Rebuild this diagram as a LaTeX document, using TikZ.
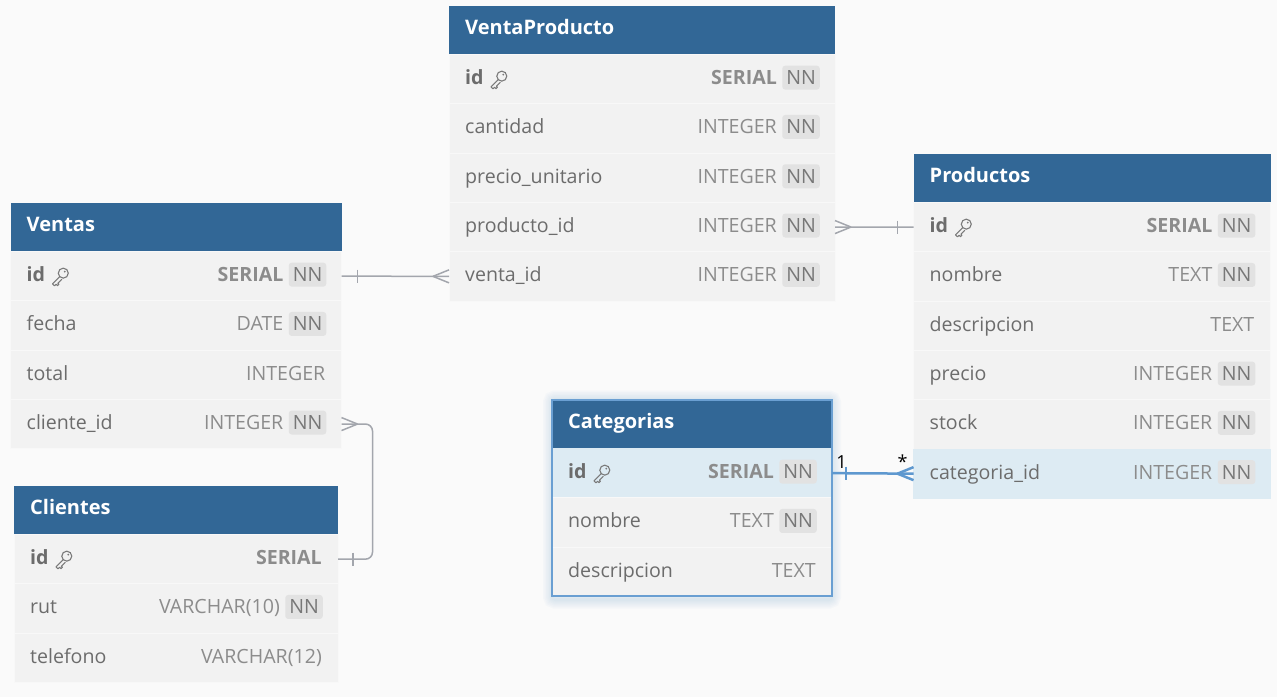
\documentclass[tikz,border=0pt]{standalone}
\usepackage{fontspec}
\setmainfont{Open Sans}

\definecolor{bg}{HTML}{FAFAFA}
\definecolor{headblue}{HTML}{326796}
\definecolor{rowgray}{HTML}{F2F2F2}
\definecolor{rowline}{HTML}{F8F8F8}
\definecolor{hilite}{HTML}{DDEBF3}
\definecolor{fldgray}{HTML}{6C6C6C}
\definecolor{typgray}{HTML}{8C8C8C}
\definecolor{nnfill}{HTML}{E2E2E2}
\definecolor{nntext}{HTML}{777777}
\definecolor{keygray}{HTML}{7A7A7A}
\definecolor{linkgray}{HTML}{A3A6AD}
\definecolor{linkblue}{HTML}{5E98CF}
\definecolor{cateborder}{HTML}{6A9FD2}

\newcommand\rowfont{\fontsize{19.6}{23}\selectfont}
\newcommand\headfont{\fontsize{20}{24}\selectfont\bfseries}

\tikzset{
  tw/.style={},
  tblhead/.style={rectangle, fill=headblue, minimum height=49pt, inner sep=0pt, outer sep=0pt, anchor=north west, tw},
  headtext/.style={inner sep=0pt, anchor=base west, font=\headfont, text=white},
  rowbox/.style={rectangle, fill=rowgray, draw=rowline, line width=0.8pt, minimum height=49.3pt, inner sep=0pt, outer sep=0pt, anchor=north west, tw},
  fieldtext/.style={inner sep=0pt, anchor=base west, font=\rowfont, text=fldgray},
  typetext/.style={inner sep=0pt, anchor=base east, font=\rowfont, text=typgray},
  nnbadge/.style={rectangle, rounded corners=3pt, fill=nnfill, text=nntext, font=\rowfont, inner xsep=4pt, inner ysep=0pt, minimum height=24pt, anchor=east},
  link/.style={draw=linkgray, line width=1.5pt},
  bluelink/.style={draw=linkblue, line width=2.5pt},
  keyicon/.pic={
    \draw[keygray, line width=1.1pt] (12,-8.5) circle (5pt);
    \fill[keygray] (13.5,-10) circle (1pt);
    \draw[keygray, line width=1.1pt, line cap=round, line join=round]
      (8.6,-5.2) -- (1.2,2.2) -- (3.2,4.2) -- (4.8,2.6) -- (6.2,4) -- (7.6,2.6) -- (6.6,1.6) -- (10.4,-2.2);
  },
  one/.pic={\draw (0,-6.5) -- (0,6.5);},
  many/.pic={\draw (0,0) -- (16,-6.5) (0,0) -- (16,6.5);},
}

% table head: name, x, y, title
\newcommand\dbhead[4]{%
  \node[tblhead] (#1) at (#2,#3) {};
  \node[headtext] (#1-t) at ([xshift=16pt,yshift=-4.6pt]#1.west) {#4};}

% table row: name, row above, field, type, NN badge (1/0)
\newcommand\dbrow[5]{%
  \node[rowbox] (#1) at (#2.south west) {};
  \node[fieldtext] (#1-f) at ([xshift=16pt,yshift=-5.5pt]#1.west) {#3};
  \ifnum#5=1
    \node[nnbadge] (#1-nn) at ([xshift=-15pt,yshift=1.5pt]#1.east) {NN};
    \node[typetext] (#1-ty) at ([xshift=-5pt]#1-nn.base west) {#4};
  \else
    \node[typetext] (#1-ty) at ([xshift=-16pt,yshift=-5.5pt]#1.east) {#4};
  \fi}

\begin{document}
\begin{tikzpicture}[x=1pt, y=-1pt]
  \fill[bg] (0,0) rectangle (1277,697);
  \useasboundingbox (0,0) rectangle (1277,697);

  % VentaProducto
  \begin{scope}[tw/.style={minimum width=386pt}]
    \dbhead{vp}{449}{5.5}{VentaProducto}
    \dbrow{vp-1}{vp}{\textbf{id}}{\textbf{SERIAL}}{1}
    \pic at ([xshift=6pt]vp-1-f.base east) {keyicon};
    \dbrow{vp-2}{vp-1}{cantidad}{INTEGER}{1}
    \dbrow{vp-3}{vp-2}{precio\_unitario}{INTEGER}{1}
    \dbrow{vp-4}{vp-3}{producto\_id}{INTEGER}{1}
    \dbrow{vp-5}{vp-4}{venta\_id}{INTEGER}{1}
  \end{scope}

  % Productos
  \begin{scope}[tw/.style={minimum width=357pt}]
    \dbhead{pr}{913.5}{153.5}{Productos}
    \dbrow{pr-1}{pr}{\textbf{id}}{\textbf{SERIAL}}{1}
    \pic at ([xshift=6pt]pr-1-f.base east) {keyicon};
    \dbrow{pr-2}{pr-1}{nombre}{TEXT}{1}
    \dbrow{pr-3}{pr-2}{descripcion}{TEXT}{0}
    \dbrow{pr-4}{pr-3}{precio}{INTEGER}{1}
    \dbrow{pr-5}{pr-4}{stock}{INTEGER}{1}
    \begin{scope}[rowbox/.append style={fill=hilite, draw=hilite}]
      \dbrow{pr-6}{pr-5}{categoria\_id}{INTEGER}{1}
    \end{scope}
  \end{scope}

  % Ventas
  \begin{scope}[tw/.style={minimum width=331pt}]
    \dbhead{ve}{10.5}{202.5}{Ventas}
    \dbrow{ve-1}{ve}{\textbf{id}}{\textbf{SERIAL}}{1}
    \pic at ([xshift=6pt]ve-1-f.base east) {keyicon};
    \dbrow{ve-2}{ve-1}{fecha}{DATE}{1}
    \dbrow{ve-3}{ve-2}{total}{INTEGER}{0}
    \dbrow{ve-4}{ve-3}{cliente\_id}{INTEGER}{1}
  \end{scope}

  % Clientes
  \begin{scope}[tw/.style={minimum width=324pt}]
    \dbhead{cl}{14}{485.5}{Clientes}
    \dbrow{cl-1}{cl}{\textbf{id}}{\textbf{SERIAL}}{0}
    \pic at ([xshift=6pt]cl-1-f.base east) {keyicon};
    \dbrow{cl-2}{cl-1}{rut}{VARCHAR(10)}{1}
    \dbrow{cl-3}{cl-2}{telefono}{VARCHAR(12)}{0}
  \end{scope}

  % Categorias (selected)
  \foreach \g in {3,6,...,18}
    \draw[cateborder, opacity=0.035, line width=\g pt, rounded corners=3pt] (552,399.5) rectangle (832,599.5);
  \begin{scope}[tw/.style={minimum width=280pt}]
    \dbhead{ca}{552}{399.5}{Categorias}
    \begin{scope}[rowbox/.append style={fill=hilite, draw=hilite}]
      \dbrow{ca-1}{ca}{\textbf{id}}{\textbf{SERIAL}}{1}
    \end{scope}
    \pic at ([xshift=6pt]ca-1-f.base east) {keyicon};
    \dbrow{ca-2}{ca-1}{nombre}{TEXT}{1}
    \dbrow{ca-3}{ca-2}{descripcion}{TEXT}{0}
  \end{scope}
  \draw[cateborder, line width=2pt] (ca.north west) rectangle (ca-3.south east);

  % relations
  \begin{scope}[link]
    \draw (ve-1.east) -- (vp-5.west);
    \pic[linkgray, line width=1.5pt] at ([xshift=16pt]ve-1.east) {one};
    \pic[linkgray, line width=1.5pt] at ([xshift=-16pt]vp-5.west) {many};
    \draw (vp-4.east) -- (pr-1.west);
    \pic[linkgray, line width=1.5pt, rotate=180] at ([xshift=16pt]vp-4.east) {many};
    \pic[linkgray, line width=1.5pt] at ([xshift=-16pt]pr-1.west) {one};
    \draw[rounded corners=7pt] (ve-4.east) -- ++(31,0) |- (cl-1.east);
    \pic[linkgray, line width=1.5pt, rotate=180] at ([xshift=16pt]ve-4.east) {many};
    \pic[linkgray, line width=1.5pt] at ([xshift=15pt]cl-1.east) {one};
  \end{scope}
  \draw[bluelink] (ca-1.east) -- (pr-6.west);
  \pic[linkblue, line width=2.5pt] at ([xshift=14pt]ca-1.east) {one};
  \pic[linkblue, line width=2.5pt] at ([xshift=-16pt]pr-6.west) {many};
  \node[font=\fontsize{18}{20}\selectfont, inner sep=0pt] (lbl-one) at (841.5,462) {1};
  \node[font=\fontsize{18}{20}\selectfont, inner sep=0pt] (lbl-many) at (902.5,462) {*};
\end{tikzpicture}
\end{document}
